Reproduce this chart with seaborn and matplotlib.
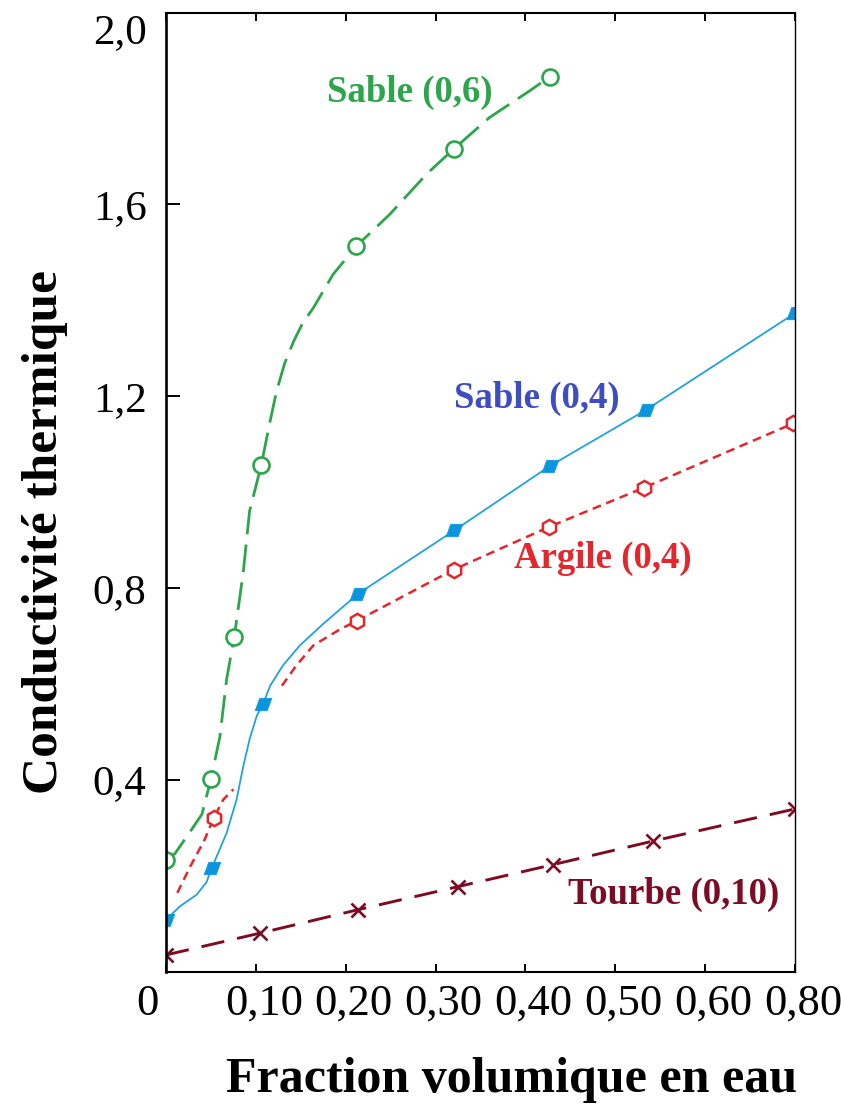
import matplotlib
matplotlib.use("Agg")
import matplotlib.pyplot as plt
import matplotlib.transforms as mtransforms
import seaborn as sns

# ---------------- data ----------------
x_ticks = [0.0, 0.1, 0.2, 0.3, 0.4, 0.5, 0.6, 0.7]
x_tick_labels = ["0", "0,10", "0,20", "0,30", "0,40", "0,50", "0,60", "0,80"]
y_ticks = [0.4, 0.8, 1.2, 1.6, 2.0]
y_tick_labels = ["0,4", "0,8", "1,2", "1,6", "2,0"]

# Sable (0,6) – measured points (open circles)
sable06_x = [0.0, 0.050, 0.076, 0.106, 0.212, 0.320, 0.427]
sable06_y = [0.233, 0.401, 0.698, 1.056, 1.513, 1.715, 1.866]
# Sable (0,6) – curve
sable06_curve_x = [0.0, 0.010, 0.027, 0.040, 0.050, 0.060, 0.0675, 0.076, 0.086, 0.093,
                   0.106, 0.115, 0.123, 0.132, 0.142, 0.152, 0.164, 0.186, 0.212, 0.249,
                   0.290, 0.320, 0.360, 0.405, 0.427]
sable06_curve_y = [0.233, 0.246, 0.292, 0.328, 0.401, 0.490, 0.610, 0.698, 0.833, 0.960,
                   1.056, 1.140, 1.210, 1.268, 1.314, 1.352, 1.384, 1.454, 1.513, 1.579,
                   1.663, 1.715, 1.781, 1.837, 1.866]

# Sable (0,4) – measured points (filled markers)
sable04_x = [0.0, 0.051, 0.108, 0.214, 0.321, 0.427, 0.534, 0.70]
sable04_y = [0.108, 0.216, 0.558, 0.788, 0.920, 1.054, 1.171, 1.373]
sable04_curve_x = [0.0, 0.0156, 0.034, 0.045, 0.051, 0.0675, 0.0786, 0.086, 0.093, 0.101,
                   0.108, 0.116, 0.130, 0.149, 0.175, 0.214, 0.321, 0.427, 0.534, 0.70]
sable04_curve_y = [0.108, 0.136, 0.160, 0.186, 0.216, 0.289, 0.359, 0.428, 0.484, 0.533,
                   0.558, 0.596, 0.638, 0.680, 0.725, 0.788, 0.920, 1.054, 1.171, 1.373]

# Argile (0,4) – measured points (open hexagons)
argile_x = [0.053, 0.213, 0.320, 0.426, 0.532, 0.698]
argile_y = [0.320, 0.732, 0.838, 0.927, 1.009, 1.143]
# Argile (0,4) – curve (two pieces, gap between)
argile_curve1_x = [0.0126, 0.027, 0.043, 0.053, 0.064, 0.075]
argile_curve1_y = [0.164, 0.219, 0.275, 0.320, 0.359, 0.380]
argile_curve2_x = [0.129, 0.145, 0.164, 0.194, 0.213, 0.320, 0.426, 0.532, 0.698]
argile_curve2_y = [0.596, 0.638, 0.680, 0.714, 0.732, 0.838, 0.927, 1.009, 1.143]

# Tourbe (0,10)
tourbe_x = [0.0, 0.1046, 0.214, 0.325, 0.431, 0.542, 0.70]
tourbe_y = [0.0345, 0.080, 0.129, 0.177, 0.223, 0.272, 0.339]

# ---------------- style ----------------
GREEN = "#2CA64B"
BLUE_LINE = "#1FA2DE"
BLUE_MARK = "#0A95DF"
BLUE_TEXT = "#3E4EC2"
RED = "#E5262C"
TOURBE = "#7E0B24"

sns.set_theme(style="white")
plt.rcParams["font.family"] = ["Liberation Serif", "DejaVu Serif"]
plt.rcParams["axes.edgecolor"] = "black"

fig = plt.figure(figsize=(8.44, 11.06), dpi=100)
ax = fig.add_axes([166 / 844, 1 - 971.5 / 1106, (795 - 166) / 844, (971.5 - 12.5) / 1106])

# Sable (0,6)
sns.lineplot(x=sable06_curve_x, y=sable06_curve_y, ax=ax, color=GREEN, linewidth=2.0,
             linestyle=(0, (10, 3.7)), sort=False, estimator=None)
sns.lineplot(x=sable06_x, y=sable06_y, ax=ax, color=GREEN, linestyle="none", marker="o",
             markersize=11.5, markerfacecolor="white", markeredgecolor=GREEN,
             markeredgewidth=1.9, sort=False, estimator=None)

# Sable (0,4)
para = [(-1, -0.75), (0.45, -0.75), (1, 0.75), (-0.45, 0.75), (-1, -0.75)]
sns.lineplot(x=sable04_curve_x, y=sable04_curve_y, ax=ax, color=BLUE_LINE, linewidth=1.3,
             sort=False, estimator=None)
sns.lineplot(x=sable04_x, y=sable04_y, ax=ax, color=BLUE_MARK, linestyle="none", marker=para,
             markersize=12, markerfacecolor=BLUE_MARK, markeredgecolor=BLUE_MARK,
             markeredgewidth=0.5, sort=False, estimator=None)

# Argile (0,4)
for cx, cy in [(argile_curve1_x, argile_curve1_y), (argile_curve2_x, argile_curve2_y)]:
    sns.lineplot(x=cx, y=cy, ax=ax, color=RED, linewidth=1.8,
                 linestyle=(0, (3.5, 2.3)), sort=False, estimator=None)
sns.lineplot(x=argile_x, y=argile_y, ax=ax, color=RED, linestyle="none", marker="h",
             markersize=11, markerfacecolor="white", markeredgecolor=RED,
             markeredgewidth=1.8, sort=False, estimator=None)

# Tourbe (0,10)
sns.lineplot(x=tourbe_x, y=tourbe_y, ax=ax, color=TOURBE, linewidth=2.1,
             linestyle=(0, (8, 4.5)), marker="x", markersize=10.5,
             markeredgecolor=TOURBE, markeredgewidth=1.9, sort=False, estimator=None)

# ---------------- axes ----------------
ax.set_xlim(0, 0.70)
ax.set_ylim(0, 2.0)
ax.set_xticks(x_ticks)
ax.set_xticklabels(x_tick_labels, fontsize=32)
ax.set_yticks(y_ticks)
ax.set_yticklabels(y_tick_labels, fontsize=31)
ax.tick_params(axis="x", direction="in", length=6, width=1.4, pad=9, top=True,
               bottom=True, colors="black")
ax.tick_params(axis="y", direction="in", length=10, width=1.4, pad=14, left=True,
               right=False, colors="black")

for side, lw in [("left", 1.9), ("bottom", 1.5), ("top", 1.5), ("right", 1.0)]:
    ax.spines[side].set_visible(True)
    ax.spines[side].set_linewidth(lw)
    ax.spines[side].set_color("black")

# small label offsets as in the reference
for i, lab in enumerate(ax.get_xticklabels()):
    dx = -19 if i == 0 else 8
    lab.set_transform(lab.get_transform() +
                      mtransforms.ScaledTranslation(dx / 100, 0, fig.dpi_scale_trans))
ylabs = ax.get_yticklabels()
ylabs[-1].set_transform(ylabs[-1].get_transform() +
                        mtransforms.ScaledTranslation(0, -16 / 100, fig.dpi_scale_trans))

ax.set_xlabel("Fraction volumique en eau", fontsize=36, fontweight="bold", color="black")
ax.xaxis.set_label_coords(0.550, -0.113)
ax.xaxis.label.set_verticalalignment("center")
ax.set_ylabel("Conductivité thermique", fontsize=37, fontweight="bold", color="black")
ax.yaxis.set_label_coords(-0.192, 0.458)
ax.yaxis.label.set_verticalalignment("center")

# ---------------- series labels ----------------
lab_kw = dict(fontsize=26.5, fontweight="bold", ha="left", va="center")
ax.text(0.179, 1.834, "Sable (0,6)", color=GREEN, **lab_kw)
ax.text(0.321, 1.196, "Sable (0,4)", color=BLUE_TEXT, **lab_kw)
ax.text(0.387, 0.861, "Argile (0,4)", color=RED, **lab_kw)
ax.text(0.447, 0.160, "Tourbe (0,10)", color=TOURBE, **lab_kw)

fig.savefig("out.png", dpi=100)
